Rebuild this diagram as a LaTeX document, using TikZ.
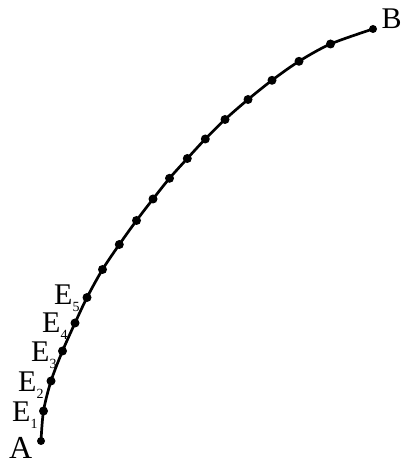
\documentclass[tikz,border=0pt]{standalone}
\usepackage{fontspec}
\setmainfont{Liberation Serif}
\newcommand{\lbl}[2]{#1\raisebox{-7pt}{\fontsize{14}{14}\selectfont #2}}
\begin{document}
\begin{tikzpicture}[x=1pt,y=1pt,
  dot/.style={circle,fill=black,inner sep=0pt,minimum size=9pt},
  lab/.style={inner sep=0pt,anchor=base west,font=\fontsize{30}{30}\selectfont},
  curve/.style={line width=2.7pt}]
\useasboundingbox (0,0) rectangle (401,466);
\coordinate (p0) at (41,25);
\coordinate (p1) at (43.5,55);
\coordinate (p2) at (51,85);
\coordinate (p3) at (62.5,115);
\coordinate (p4) at (75,143);
\coordinate (p5) at (87,168.5);
\coordinate (p6) at (102.5,196.5);
\coordinate (p7) at (119.3,221.5);
\coordinate (p8) at (136.5,245.5);
\coordinate (p9) at (153,267);
\coordinate (p10) at (169.5,287.7);
\coordinate (p11) at (187.3,307.5);
\coordinate (p12) at (205.3,327);
\coordinate (p13) at (225,346.5);
\coordinate (p14) at (248,366.5);
\coordinate (p15) at (272,385.7);
\coordinate (p16) at (299,404.7);
\coordinate (p17) at (330.5,422);
\coordinate (p18) at (373,437);
\draw[curve] plot[smooth,tension=0.5] coordinates {(p0) (p1) (p2) (p3) (p4) (p5) (p6) (p7) (p8) (p9) (p10) (p11) (p12) (p13) (p14) (p15) (p16) (p17) (p18)};
\foreach \i in {1,...,17} \node[dot] (d\i) at (p\i) {};
\node[dot,minimum size=8pt] (d0) at (p0) {};
\node[dot,minimum size=8pt] (d18) at (p18) {};
\node[lab,font=\fontsize{32}{32}\selectfont] (A) at (9,7.5) {A};
\node[lab] (B) at (381.5,437) {B};
\node[lab] (E1) at (12,44) {\lbl{E}{1}};
\node[lab] (E2) at (18,74) {\lbl{E}{2}};
\node[lab] (E3) at (31,104) {\lbl{E}{3}};
\node[lab] (E4) at (42,133) {\lbl{E}{4}};
\node[lab] (E5) at (54,161) {\lbl{E}{5}};
\end{tikzpicture}
\end{document}
